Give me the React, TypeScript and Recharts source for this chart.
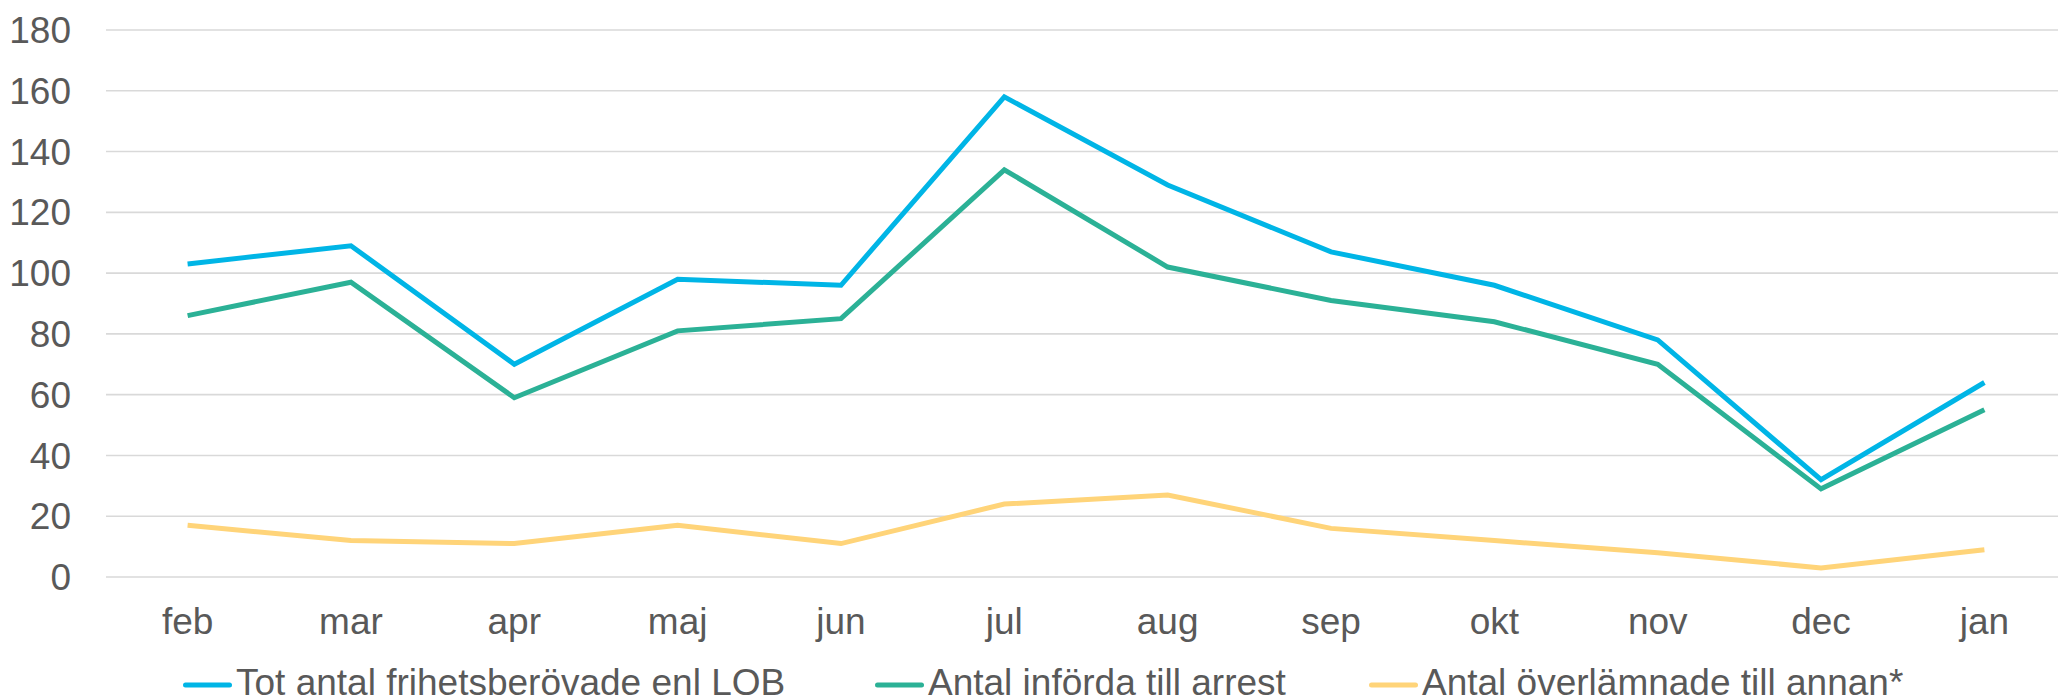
import React from "react";
import { LineChart, Line, XAxis, YAxis, CartesianGrid, Legend } from "recharts";

const months = ["feb", "mar", "apr", "maj", "jun", "jul", "aug", "sep", "okt", "nov", "dec", "jan"];
const totFrihetsberovade = [103, 109, 70, 98, 96, 158, 129, 107, 96, 78, 32, 64];
const infordaArrest = [86, 97, 59, 81, 85, 134, 102, 91, 84, 70, 29, 55];
const overlamnade = [17, 12, 11, 17, 11, 24, 27, 16, 12, 8, 3, 9];
const yTicks = [0, 20, 40, 60, 80, 100, 120, 140, 160, 180];

const seriesNames = [
  "Tot antal frihetsberövade enl LOB",
  "Antal införda till arrest",
  "Antal överlämnade till annan*",
];
const seriesColors = ["#00B5E6", "#2BB196", "#FFD479"];
const seriesKeys = ["tot", "inforda", "overlamnade"];
const legendLeft = [183, 875, 1369];

const data = months.map((m, i) => ({
  month: m,
  tot: totFrihetsberovade[i],
  inforda: infordaArrest[i],
  overlamnade: overlamnade[i],
}));

const FONT = "'Liberation Sans', Arial, sans-serif";
const TEXT = "#595959";

const LegendContent = () => (
  <div style={{ position: "relative", width: 2058, height: 0, fontFamily: FONT, fontSize: 37, color: TEXT, whiteSpace: "nowrap" }}>
    {seriesNames.map((n, i) => (
      <div
        key={n}
        style={{ position: "absolute", left: legendLeft[i], top: 0, height: 34, lineHeight: "34px", display: "flex", alignItems: "center" }}
      >
        <svg width={49} height={8} style={{ marginRight: 4, marginTop: 4 }}>
          <line x1={2.5} y1={4} x2={46.5} y2={4} stroke={seriesColors[i]} strokeWidth={5} strokeLinecap="round" />
        </svg>
        <span>{n}</span>
      </div>
    ))}
  </div>
);

export default function App() {
  return (
    <div style={{ position: "absolute", left: 0, top: 0, width: 2058, height: 699, background: "#fff", overflow: "hidden" }}>
      <LineChart
        width={2058}
        height={699}
        data={data}
        margin={{ top: 30, right: -8, bottom: 0, left: 0 }}
      >
        <CartesianGrid vertical={false} stroke="#D9D9D9" strokeWidth={1.6} x={106} width={1952} />
        <XAxis
          dataKey="month"
          height={122}
          axisLine={false}
          tickLine={false}
          tickSize={0}
          tickMargin={31}
          padding={{ left: 81.6, right: 81.6 }}
          interval={0}
          tick={{ fontSize: 37, fill: TEXT, fontFamily: FONT }}
        />
        <YAxis
          domain={[0, 180]}
          ticks={yTicks}
          width={106}
          axisLine={false}
          tickLine={false}
          tickSize={0}
          tickMargin={35}
          interval={0}
          tick={{ fontSize: 37, fill: TEXT, fontFamily: FONT }}
        />
        <Legend
          content={<LegendContent />}
          wrapperStyle={{ position: "absolute", top: 666, left: 0, width: 2058, height: 0, overflow: "visible" }}
        />
        {seriesKeys.map((k, i) => (
          <Line
            key={k}
            type="linear"
            dataKey={k}
            name={seriesNames[i]}
            stroke={seriesColors[i]}
            strokeWidth={5}
            dot={false}
            activeDot={false}
            isAnimationActive={false}
          />
        ))}
      </LineChart>
    </div>
  );
}
